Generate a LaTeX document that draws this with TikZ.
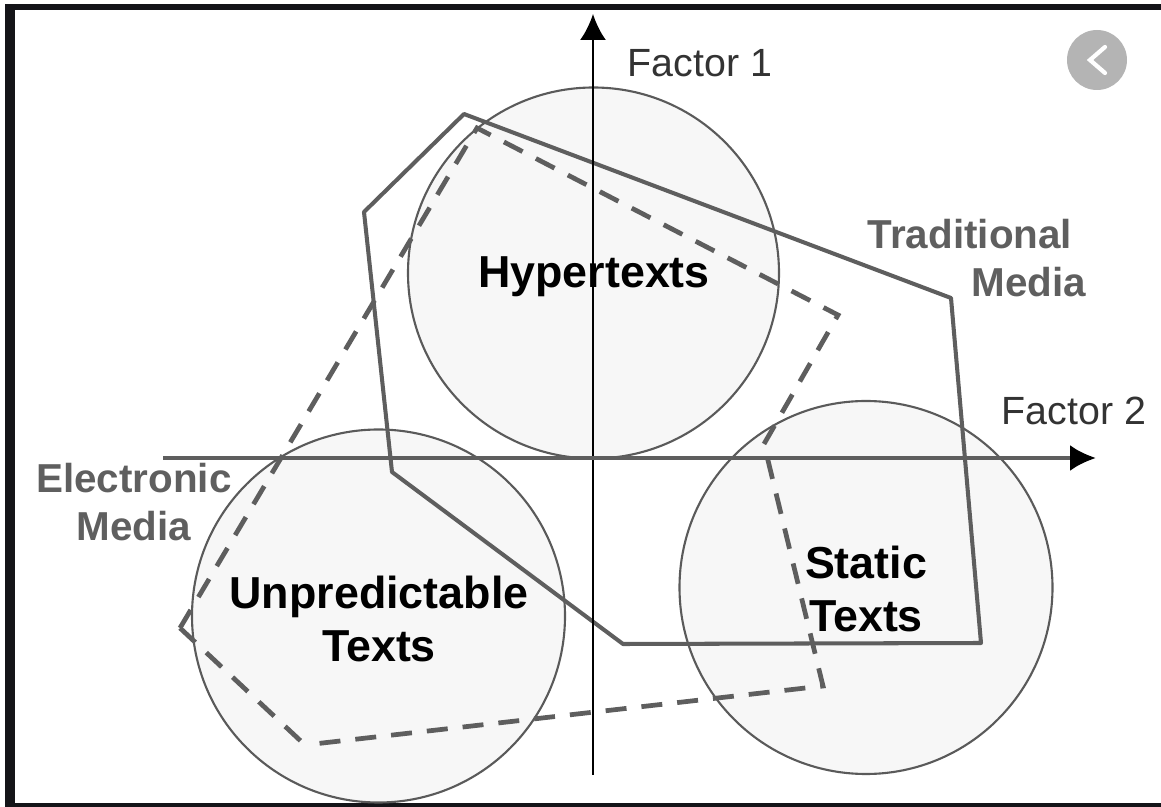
\documentclass[tikz,border=0pt]{standalone}
\usepackage{fontspec}
\setmainfont{Liberation Sans}
\usetikzlibrary{arrows.meta}
\definecolor{framecol}{HTML}{141418}
\definecolor{circfill}{HTML}{F7F7F7}
\definecolor{circline}{HTML}{5A5A5A}
\definecolor{polyline}{HTML}{5E5E5E}
\definecolor{mediatext}{HTML}{5F5F5F}
\definecolor{backcol}{HTML}{B4B4B4}
\tikzset{
  textcircle/.style={draw=circline,fill=circfill,line width=1.2pt},
  tradline/.style={draw=polyline,line width=2.3pt,line join=round},
  elecline/.style={draw=polyline,line width=2.7pt,line join=miter,dash pattern=on 0.42cm off 0.30cm},
  axisline/.style={-{Latex[length=0.52cm,width=0.52cm,black]},line width=1.5pt,black},
  textlabel/.style={font=\fontsize{25.5}{30.5}\selectfont\bfseries,align=center,text=black},
  medialabel/.style={font=\fontsize{23}{27.5}\selectfont\bfseries,text=mediatext},
  factorlabel/.style={font=\fontsize{22.4}{27}\selectfont,text=black!80}
}
\begin{document}
\begin{tikzpicture}[x=0.02cm,y=-0.02cm]
  \useasboundingbox (0,0) rectangle (1161,807);
  % frame of the screenshot
  \fill[framecol] (5,4) rectangle (1161,10);
  \fill[framecol] (5,4) rectangle (15,807);
  \fill[framecol] (5,803) rectangle (1161,807);
  % circles
  \draw[textcircle] (593.5,273) circle (185.5);
  \draw[textcircle] (378.5,616) circle (186.5);
  \draw[textcircle] (866,587.5) circle (186.5);
  % media outlines
  \draw[tradline] (464,114) -- (951,298) -- (981,643) -- (623,644)
    -- (392,472) -- (364,212) -- cycle;
  \coordinate (tip) at (180,628);
  \coordinate (low) at (305,745);
  \draw[elecline] (tip) -- (477,128) -- (838,315) -- (764,444) -- (823,686) -- (low);
  \draw[elecline] (tip) -- (low);
  % axes
  \coordinate (ybottom) at (593,775);
  \coordinate (ytop) at (593,14);
  \coordinate (xleft) at (163,458);
  \coordinate (xright) at (1096,458);
  \draw[axisline] (ybottom) -- (ytop);
  \draw[axisline,line width=2.1pt,draw=polyline] (xleft) -- (xright);
  % back button
  \fill[backcol] (1097,60) circle (30);
  \draw[white,line width=2.4pt,line cap=round] (1105,47) -- (1090,60) -- (1105,73);
  % labels
  \node (factorone) at (700,63) [factorlabel] {Factor 1};
  \node (factortwo) at (1074,411) [factorlabel] {Factor 2};
  \node (hyper) at (594,277) [textlabel] {Hypertexts};
  \node (unpred) at (379,619) [textlabel] {Unpredictable\\Texts};
  \node (static) at (866,589) [textlabel] {Static\\Texts};
  \node (trad) at (977,258) [medialabel,align=left] {Traditional\\\hspace*{2.08cm}Media};
  \node (elec) at (134,502) [medialabel,align=center] {Electronic\\Media};
\end{tikzpicture}
\end{document}
